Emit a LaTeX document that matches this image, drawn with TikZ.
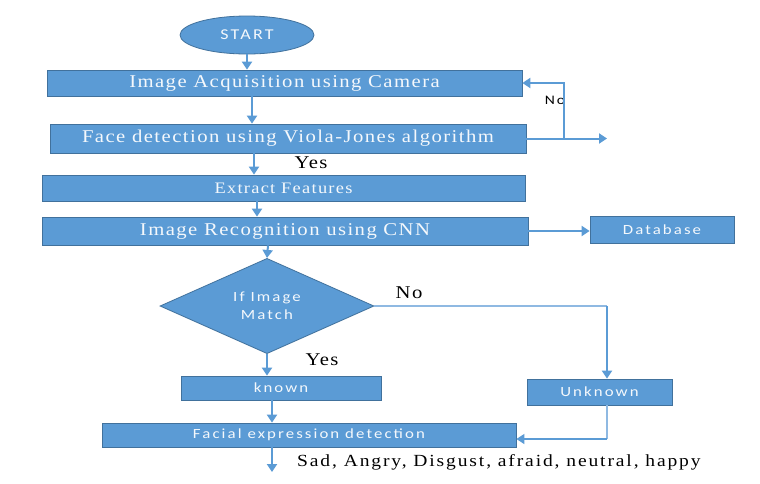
\documentclass[tikz,border=0pt]{standalone}
\usepackage{fontspec}
\setmainfont{Liberation Serif}
\newfontfamily\bserif[FakeStretch=1.15,LetterSpace=8]{Liberation Serif}
\newfontfamily\lserif[FakeStretch=1.15,LetterSpace=11]{Liberation Serif}
\newfontfamily\bsans[FakeStretch=1.2,LetterSpace=15]{Carlito}
\usetikzlibrary{shapes.geometric,arrows.meta}
\definecolor{boxblue}{HTML}{5B9BD5}
\definecolor{boxedge}{HTML}{41719C}
\definecolor{lineblue}{HTML}{5B9BD5}
\definecolor{thinblue}{HTML}{8FB9E2}
\definecolor{boxtext}{HTML}{F4F8FC}
\tikzset{
  box/.style={draw=boxedge, fill=boxblue, line width=0.8pt, inner sep=0pt, text=boxtext},
  serifbig/.style={font={\bserif\fontsize{18pt}{20pt}\selectfont}},
  serifmid/.style={font={\bserif\fontsize{16pt}{18pt}\selectfont}},
  sanslbl/.style={font={\bsans\fontsize{14pt}{16pt}\selectfont}},
  arr/.style={draw=lineblue, line width=2pt, -{Triangle[width=10pt,length=8pt]}},
  lbl/.style={font={\bserif\fontsize{18pt}{20pt}\selectfont}, text=black, inner sep=0pt}
}
\begin{document}
\begin{tikzpicture}[x=1pt,y=-1pt]
\useasboundingbox (0,0) rectangle (760,483);
\fill[white] (0,0) rectangle (760,483);

% nodes
\node[box, ellipse, minimum width=134pt, minimum height=38pt, font={\bsans\fontsize{15pt}{17pt}\selectfont}] (start) at (247,35) {START};
\node[box, serifbig, minimum width=475pt, minimum height=26pt] (b1) at (284.5,83) {Image Acquisition using Camera};
\node[box, serifbig, minimum width=476pt, minimum height=29pt] (b2) at (288,138.5) {Face detection using Viola-Jones algorithm};
\node[box, serifmid, minimum width=483pt, minimum height=26pt] (b3) at (283.5,188) {Extract Features};
\node[box, serifbig, minimum width=486pt, minimum height=28pt] (b4) at (285,231) {Image Recognition using CNN};
\node[box, sanslbl, minimum width=144pt, minimum height=27pt] (db) at (662,229.5) {Database};
\node[box, diamond, sanslbl, minimum width=214pt, minimum height=94pt, align=center] (dm) at (267,306) {If Image\\[2pt]Match};
\node[box, sanslbl, minimum width=200pt, minimum height=24pt] (kn) at (281,388) {known};
\node[box, sanslbl, minimum width=145pt, minimum height=26pt] (unk) at (599.5,392) {Unknown};
\node[box, sanslbl, minimum width=414pt, minimum height=24pt] (fac) at (309,435) {Facial expression detection};

% labels
\node[lbl] (yes1) at (311,163) {Yes};
\node[lbl] (no2) at (409,293) {No};
\node[lbl] (yes2) at (322,360) {Yes};
\node[font={\bsans\fontsize{13pt}{15pt}\selectfont}, text=black, inner sep=0pt] (no1) at (555,100) {No};
\node[font={\lserif\fontsize{17pt}{19pt}\selectfont}, text=black, inner sep=0pt, anchor=west] (emo) at (297,462) {Sad, Angry, Disgust, afraid, neutral, happy};

% helper coordinates
\coordinate (x1) at (252,0);
\coordinate (x2) at (254,0);
\coordinate (x3) at (257,0);
\coordinate (x4) at (268,0);
\coordinate (x5) at (272,0);
\coordinate (loopx) at (564,0);
\coordinate (outx) at (607,0);
\coordinate (ly1) at (0,83);
\coordinate (ly2) at (0,138.5);
\coordinate (dby) at (0,231);
\coordinate (fy) at (0,439);
\coordinate (endy) at (0,472);
\coordinate (out1) at (outx |- ly2);
\coordinate (fend) at (x5 |- endy);

% connectors
\draw[arr] (start.south) -- (start.south |- b1.north);
\draw[arr] (x1 |- b1.south) -- (x1 |- b2.north);
\draw[arr] (x2 |- b2.south) -- (x2 |- b3.north);
\draw[arr] (x3 |- b3.south) -- (x3 |- b4.north);
\draw[arr] (x4 |- b4.south) -- (dm.north);
\draw[arr] (b4.east |- dby) -- (db.west |- dby);
\draw[arr] (dm.south) -- (dm.south |- kn.north);
\draw[arr] (x5 |- kn.south) -- (x5 |- fac.north);
\draw[arr] (x5 |- fac.south) -- (fend);

% loop from face detection
\draw[draw=lineblue, line width=2pt] (b2.east |- ly2) -- (loopx |- ly2);
\draw[arr] (loopx |- ly2) -- (loopx |- ly1) -- (b1.east |- ly1);
\draw[arr] (loopx |- ly2) -- (out1);

% No branch of decision
\draw[draw=thinblue, line width=1.3pt] (dm.east) -- (dm.east -| outx);
\draw[arr] (dm.east -| outx) -- (outx |- unk.north);

% unknown to facial
\draw[draw=thinblue, line width=1.3pt] (outx |- unk.south) -- (outx |- fy);
\draw[arr, line width=1.3pt] (outx |- fy) -- (fac.east |- fy);
\end{tikzpicture}
\end{document}
